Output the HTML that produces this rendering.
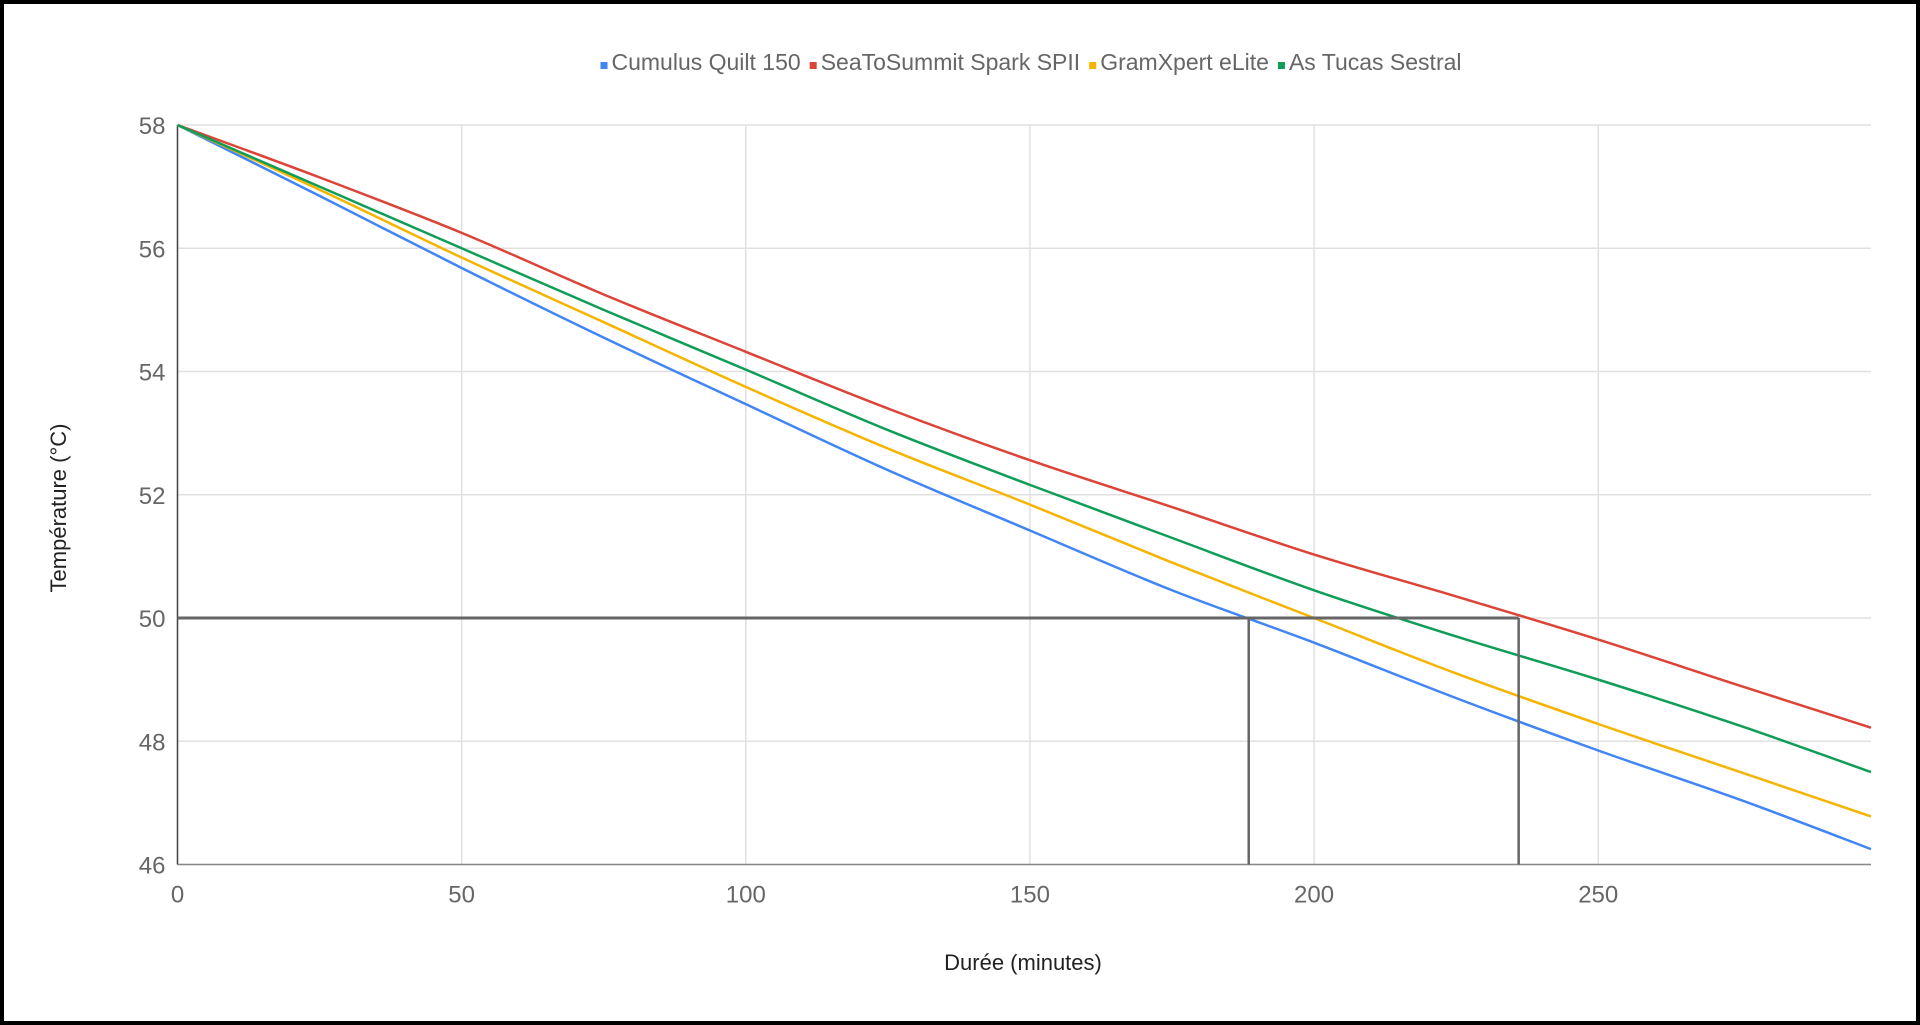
<!DOCTYPE html>
<html><head><meta charset="utf-8"><style>
html,body{margin:0;padding:0;background:#fff;}
#wrap{position:relative;width:1920px;height:1025px;box-sizing:border-box;border:4px solid #000;background:#fff;overflow:hidden;}
svg{position:absolute;left:-4px;top:-4px;}
text{font-family:"Liberation Sans",sans-serif;}
</style></head><body>
<div id="wrap">
<svg id="chart" width="1920" height="1025"></svg>
</div>
<script>
const minutes=[0,25,50,75,100,125,150,175,200,225,250,275,298];
const cumulus=[58,56.85,55.68,54.55,53.47,52.4,51.42,50.45,49.6,48.7,47.85,47.05,46.25];
const seaToSummit=[58,57.15,56.25,55.25,54.32,53.4,52.56,51.8,51.03,50.35,49.65,48.9,48.22];
const gramXpert=[58,56.95,55.85,54.8,53.75,52.75,51.84,50.9,50.0,49.1,48.28,47.5,46.78];
const asTucas=[58,57.0,56.0,55.0,54.03,53.05,52.16,51.3,50.45,49.7,49.0,48.25,47.5];
const seriesNames=["Cumulus Quilt 150","SeaToSummit Spark SPII","GramXpert eLite","As Tucas Sestral"];
const xTicks=[0,50,100,150,200,250];
const yTicks=[46,48,50,52,54,56,58];
const refTemp=50;
const refTimes=[188.5,236];

const svg=document.getElementById('chart');
const NS='http://www.w3.org/2000/svg';
const X0=177.5,X1=1871,XMAX=298,Y0=864.5,Y1=125,YMIN=46,YMAX=58;
const xs=v=>X0+(X1-X0)*v/XMAX;
const ys=v=>Y0-(Y0-Y1)*(v-YMIN)/(YMAX-YMIN);
function el(tag,attrs){const e=document.createElementNS(NS,tag);for(const k in attrs)e.setAttribute(k,attrs[k]);svg.appendChild(e);return e;}

yTicks.forEach(t=>{
  const g=el('line',{x1:X0,x2:X1,y1:ys(t),y2:ys(t),stroke:'#e0e0e0','stroke-width':1.5});
  
  
  const l=el('text',{x:X0-12,y:ys(t)+9,'text-anchor':'end','font-size':24,fill:'#666'});
  l.textContent=t;
  
  
});
xTicks.forEach(t=>{
  const g=el('line',{x1:xs(t),x2:xs(t),y1:Y1,y2:Y0,stroke:'#e0e0e0','stroke-width':1.5});
  
  
  const l=el('text',{x:xs(t),y:Y0+38,'text-anchor':'middle','font-size':24,fill:'#666'});
  l.textContent=t;
  
  
});
const xa=el('line',{x1:X0,x2:X1,y1:Y0,y2:Y0,stroke:'#888','stroke-width':1.5});


const ya=el('line',{x1:X0,x2:X0,y1:Y1,y2:Y0,stroke:'#444','stroke-width':1.5});



const colors=['#4285f4','#db4437','#f4b400','#0f9d58'];
const data=[cumulus,seaToSummit,gramXpert,asTucas];
const keys=['cumulus','seatosummit','gramxpert','astucas'];
data.forEach((s,i)=>{
  const pts=s.map((v,j)=>[xs(minutes[j]),ys(v)]);
  let d='M'+pts[0][0]+','+pts[0][1];
  for(let j=1;j<pts.length;j++){
    const p0=pts[j-2]||pts[j-1],p1=pts[j-1],p2=pts[j],p3=pts[j+1]||pts[j];
    const c1x=p1[0]+(p2[0]-p0[0])/6,c1y=p1[1]+(p2[1]-p0[1])/6;
    const c2x=p2[0]-(p3[0]-p1[0])/6,c2y=p2[1]-(p3[1]-p1[1])/6;
    d+=' C'+c1x+','+c1y+' '+c2x+','+c2y+' '+p2[0]+','+p2[1];
  }
  const p=el('path',{d:d,fill:'none',stroke:colors[i],'stroke-width':2.5});
  
  
});

const rh=el('line',{x1:X0,x2:xs(refTimes[1]),y1:ys(refTemp),y2:ys(refTemp),stroke:'#666','stroke-width':3});


refTimes.forEach(t=>{
  const v=el('line',{x1:xs(t),x2:xs(t),y1:ys(refTemp),y2:Y0,stroke:'#666','stroke-width':2.5});
  
  
});

const legendG=document.createElementNS(NS,'g');


svg.appendChild(legendG);
let lx=0;
seriesNames.forEach((n,i)=>{
  const r=document.createElementNS(NS,'rect');
  r.setAttribute('x',lx);r.setAttribute('y',-6);r.setAttribute('width',7);r.setAttribute('height',7);r.setAttribute('fill',colors[i]);
  
  
  legendG.appendChild(r);
  const t=document.createElementNS(NS,'text');
  t.setAttribute('x',lx+11);t.setAttribute('y',2);t.setAttribute('font-size',23);t.setAttribute('fill','#666');
  t.textContent=n;
  
  
  legendG.appendChild(t);
  lx+=11+t.getComputedTextLength()+9;
});
const lw=lx-9;
legendG.setAttribute('transform','translate('+(1031-lw/2)+',68)');

const yt=el('text',{x:0,y:0,'text-anchor':'middle','font-size':22,fill:'#222',transform:'translate(66,508) rotate(-90)'});
yt.textContent='Température (°C)';


const xt=el('text',{x:1023,y:970,'text-anchor':'middle','font-size':22,fill:'#222'});
xt.textContent='Durée (minutes)';


</script>
</body></html>
